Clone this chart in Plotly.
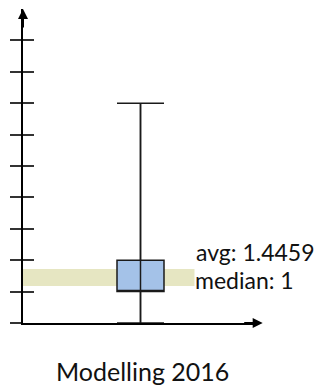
import plotly.graph_objects as go

# ---- data ----
category = "Modelling 2016"
lower_fence = [0]
q1 = [1]
median = [1]
q3 = [2]
upper_fence = [7]
mean_value = 1.4459
tick_values = [0, 1, 2, 3, 4, 5, 6, 7, 8, 9]

FONT = "Lato"

fig = go.Figure()

fig.add_trace(go.Box(
    x=[0], lowerfence=lower_fence, q1=q1, median=median, q3=q3,
    upperfence=upper_fence, width=0.4, whiskerwidth=1,
    fillcolor="#a4c2e8", line=dict(color="#1a1a1a", width=1.5),
    boxpoints=False, showlegend=False, hoverinfo="skip",
))
# whisker line running through the box
fig.add_trace(go.Scatter(
    x=[0, 0], y=[lower_fence[0], upper_fence[0]], mode="lines",
    line=dict(color="#1a1a1a", width=1.5), showlegend=False, hoverinfo="skip",
))
# invisible trace on the overlay axis so its ticks render
fig.add_trace(go.Scatter(x=[0], y=[0], yaxis="y2", mode="markers",
                         marker=dict(opacity=0), showlegend=False, hoverinfo="skip"))

# mean band
fig.add_shape(type="line", xref="paper", yref="y", x0=0, x1=1,
              y0=mean_value, y1=mean_value, layer="below",
              line=dict(color="#e6e6c2", width=17))

fig.add_annotation(xref="paper", yref="paper", x=0.728, y=0.137, xanchor="left",
                   yanchor="middle", text=f"median: {median[0]}", showarrow=False,
                   bgcolor="white", borderpad=0,
                   font=dict(family=FONT, size=23, color="#111"))
fig.add_annotation(xref="paper", yref="paper", x=0.728, y=0.226, xanchor="left",
                   yanchor="middle", text=f"avg: {mean_value}", showarrow=False,
                   font=dict(family=FONT, size=23, color="#111"))
fig.add_annotation(xref="paper", yref="paper", x=0.51, y=-0.153, xanchor="center",
                   yanchor="middle", text=category, showarrow=False,
                   font=dict(family=FONT, size=25, color="#111"))

# axis arrows
fig.add_annotation(xref="paper", yref="paper", x=0, y=1, ax=0, ay=20,
                   text="", showarrow=True, arrowhead=2, arrowsize=1,
                   arrowwidth=2, arrowcolor="black")
fig.add_annotation(xref="paper", yref="paper", x=1.02, y=0, ax=-20, ay=0,
                   text="", showarrow=True, arrowhead=2, arrowsize=1,
                   arrowwidth=2, arrowcolor="black")

fig.update_layout(
    width=319, height=381,
    margin=dict(l=15, r=69, t=1, b=66),
    paper_bgcolor="white", plot_bgcolor="white",
    xaxis=dict(range=[-1, 1], showline=True, linecolor="black", linewidth=2,
               showticklabels=False, ticks="", showgrid=False, zeroline=False),
    yaxis=dict(range=[0, 10], showline=True, linecolor="black", linewidth=2,
               tickvals=tick_values, ticks="outside", ticklen=11, tickwidth=2,
               tickcolor="#333", showticklabels=False, showgrid=False, zeroline=False),
    yaxis2=dict(range=[0, 10], overlaying="y", side="left", anchor="x",
                tickvals=tick_values, ticks="inside", ticklen=11, tickwidth=2,
                tickcolor="#333", showticklabels=False, showgrid=False,
                zeroline=False, showline=False),
)

fig.write_html("out.html")
